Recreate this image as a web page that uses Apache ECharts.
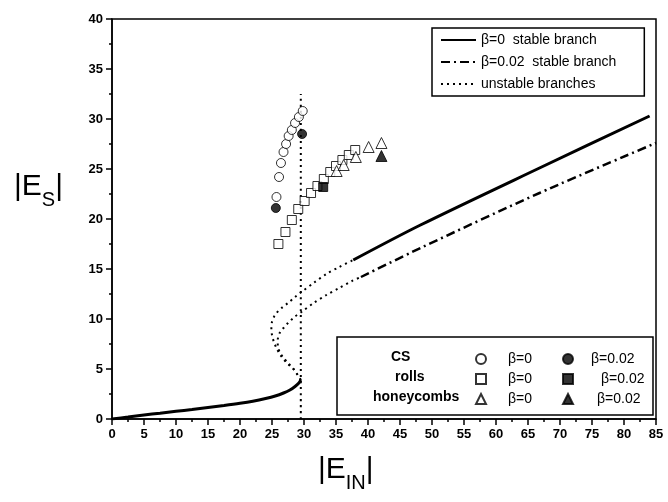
<!DOCTYPE html>
<html>
<head>
<meta charset="utf-8">
<script src="https://cdn.jsdelivr.net/npm/echarts@6/dist/echarts.min.js"></script>
<style>
  html, body { margin: 0; padding: 0; background: #fff; }
  #chart { width: 668px; height: 502px; }
</style>
</head>
<body>
<div id="chart"></div>
<script>
// stable / unstable branches as [|E_IN|, |E_S|]
var lowerBranch = [[0,0],[2.5,0.2],[5,0.4],[7.5,0.58],[10,0.77],[12.5,0.95],[15,1.15],[17.5,1.35],[20,1.57],[22,1.78],[24,2.05],[25.5,2.3],[26.8,2.6],[27.8,2.9],[28.6,3.25],[29.2,3.6],[29.5,3.9]];
var upperStable0 = [[37.7,15.9],[48.2,19.4],[66.8,25.1],[84,30.3]];
var upperStable002 = [[38.9,14.2],[48.2,17.1],[66.8,22.6],[85,27.6]];
var unstable0 = [[29.5,3.9],[28.9,4.5],[28.2,5.1],[27.5,5.5],[26.9,5.9],[26.2,6.5],[25.7,7.1],[25.3,7.7],[25.0,8.4],[24.9,9.1],[25.0,9.7],[25.3,10.2],[25.7,10.6],[26.5,11.1],[27.5,11.6],[28.6,12.2],[29.8,12.8],[31.5,13.6],[33.5,14.5],[35.5,15.2],[37.7,15.9]];
var unstable002 = [[29.5,3.9],[28.5,4.9],[27.5,5.6],[26.7,6.2],[26.2,6.7],[25.9,7.3],[25.9,7.9],[26.2,8.6],[26.8,9.1],[27.5,9.6],[28.5,10.2],[29.8,10.8],[31.5,11.6],[33.5,12.4],[35.5,13.1],[37.5,13.8],[38.9,14.2]];
var thresholdLine = [[29.5,0],[29.5,32.5]];

// pattern points
var cs0 = [[25.7,22.2],[26.1,24.2],[26.4,25.6],[26.8,26.7],[27.2,27.5],[27.6,28.3],[28.1,28.9],[28.6,29.6],[29.2,30.2],[29.8,30.8]];
var cs002 = [[25.6,21.1],[29.7,28.5]];
var rolls0 = [[26.0,17.5],[27.1,18.7],[28.1,19.9],[29.1,21.0],[30.1,21.8],[31.1,22.6],[32.1,23.3],[33.1,24.0],[34.1,24.7],[35.0,25.3],[36.0,25.9],[37.0,26.4],[38.0,26.9]];
var rolls002 = [[33.0,23.2]];
var honey0 = [[35.1,24.8],[36.2,25.4],[38.1,26.2],[40.1,27.2],[42.1,27.6]];
var honey002 = [[42.1,26.3]];

var font = "'Liberation Sans', Arial, sans-serif";
var myChart = echarts.init(document.getElementById('chart'));

var lineSeries = function(name, data, type, width) {
    return {
        name: name,
        type: 'line',
        data: data,
        symbol: 'none',
        smooth: 0.3,
        itemStyle: { color: '#000' },
        lineStyle: { color: '#000', width: width, type: type },
        silent: true
    };
};

var pointSeries = function(name, data, symbol, filled, size) {
    return {
        name: name,
        type: 'scatter',
        data: data,
        symbol: symbol,
        symbolSize: size,
        itemStyle: {
            color: filled ? '#000' : '#fff',
            borderColor: '#000',
            borderWidth: 1
        },
        z: 5
    };
};

var axisCommon = {
    axisLine: { onZero: false, lineStyle: { color: '#000', width: 1.5 } },
    axisTick: { inside: false, length: 6, lineStyle: { color: '#000', width: 1.5 } },
    minorTick: { show: true, splitNumber: 2, length: 3, lineStyle: { color: '#000', width: 1.5 } },
    splitLine: { show: false },
    axisLabel: { color: '#000', fontFamily: font, fontWeight: 'bold', fontSize: 13, margin: 9 }
};

var pointLegend = function(left, items) {
    return {
        left: left, top: 347,
        orient: 'vertical',
        selectedMode: false,
        itemWidth: 10, itemHeight: 10, itemGap: 6,
        formatter: function(n) { return n.split(' ')[1]; },
        textStyle: { color: '#000', fontFamily: font, fontSize: 14, lineHeight: 12 },
        data: items
    };
};

var option = {
    animation: false,
    grid: {
        left: 112, right: 12, top: 19, bottom: 83,
        show: true, borderColor: '#000', borderWidth: 1.5
    },
    xAxis: Object.assign({ type: 'value', min: 0, max: 85, interval: 5 }, axisCommon),
    yAxis: Object.assign({ type: 'value', min: 0, max: 40, interval: 5 }, axisCommon),
    legend: [{
        left: 432, top: 28,
        orient: 'vertical',
        selectedMode: false,
        itemWidth: 35, itemHeight: 12, itemGap: 8,
        padding: [5, 28, 5, 8],
        borderColor: '#000', borderWidth: 1.5, borderRadius: 0,
        itemStyle: { opacity: 0 },
        textStyle: { color: '#000', fontFamily: font, fontSize: 14, lineHeight: 14 },
        data: ['β=0  stable branch', 'β=0.02  stable branch', 'unstable branches']
    },
    pointLegend(470, [
        { name: 'CS β=0', textStyle: { padding: [0, 0, 0, 17] } },
        { name: 'rolls β=0', textStyle: { padding: [0, 0, 0, 17] } },
        { name: 'honeycombs β=0', textStyle: { padding: [0, 0, 0, 17] } }
    ]),
    pointLegend(557, [
        { name: 'CS β=0.02', textStyle: { padding: [0, 0, 0, 13] } },
        { name: 'rolls β=0.02', textStyle: { padding: [0, 0, 0, 23] } },
        { name: 'honeycombs β=0.02', textStyle: { padding: [0, 0, 0, 19] } }
    ])],
    graphic: [
        { type: 'rect', shape: { x: 337, y: 337, width: 316, height: 78 },
          style: { fill: '#fff', stroke: '#000', lineWidth: 1.5 }, z: 0 },
        { type: 'text', x: 391, y: 350, style: { text: 'CS', fill: '#000', font: 'bold 14px ' + font } },
        { type: 'text', x: 395, y: 370, style: { text: 'rolls', fill: '#000', font: 'bold 14px ' + font } },
        { type: 'text', x: 373, y: 390, style: { text: 'honeycombs', fill: '#000', font: 'bold 14px ' + font } },
        { type: 'text', x: 14, y: 172, style: {
            text: '{a||E}{s|S}{a||}',
            rich: {
                a: { fontSize: 30, fontFamily: font, fill: '#000', verticalAlign: 'bottom' },
                s: { fontSize: 20, fontFamily: font, fill: '#000', verticalAlign: 'bottom', padding: [0, 0, -8, 0] }
            }
        } },
        { type: 'text', x: 318, y: 455, style: {
            text: '{a||E}{s|IN}{a||}',
            rich: {
                a: { fontSize: 30, fontFamily: font, fill: '#000', verticalAlign: 'bottom' },
                s: { fontSize: 20, fontFamily: font, fill: '#000', verticalAlign: 'bottom', padding: [0, 0, -8, 0] }
            }
        } }
    ],
    series: [
        lineSeries('β=0  stable branch', upperStable0, 'solid', 3),
        lineSeries('β=0.02  stable branch', upperStable002, [9, 4, 2, 4], 2.5),
        lineSeries('unstable branches', unstable0, [2, 4], 2),
        lineSeries('unstable branches', unstable002, [2, 4], 2),
        lineSeries('unstable branches', thresholdLine, [2, 4], 2),
        lineSeries('β=0  stable branch', lowerBranch, 'solid', 3),
        pointSeries('CS β=0', cs0, 'circle', false, 9),
        pointSeries('CS β=0.02', cs002, 'circle', true, 9),
        pointSeries('rolls β=0', rolls0, 'rect', false, 9),
        pointSeries('rolls β=0.02', rolls002, 'rect', true, 9),
        pointSeries('honeycombs β=0', honey0, 'triangle', false, 11),
        pointSeries('honeycombs β=0.02', honey002, 'triangle', true, 11)
    ]
};

myChart.setOption(option);
</script>
</body>
</html>
